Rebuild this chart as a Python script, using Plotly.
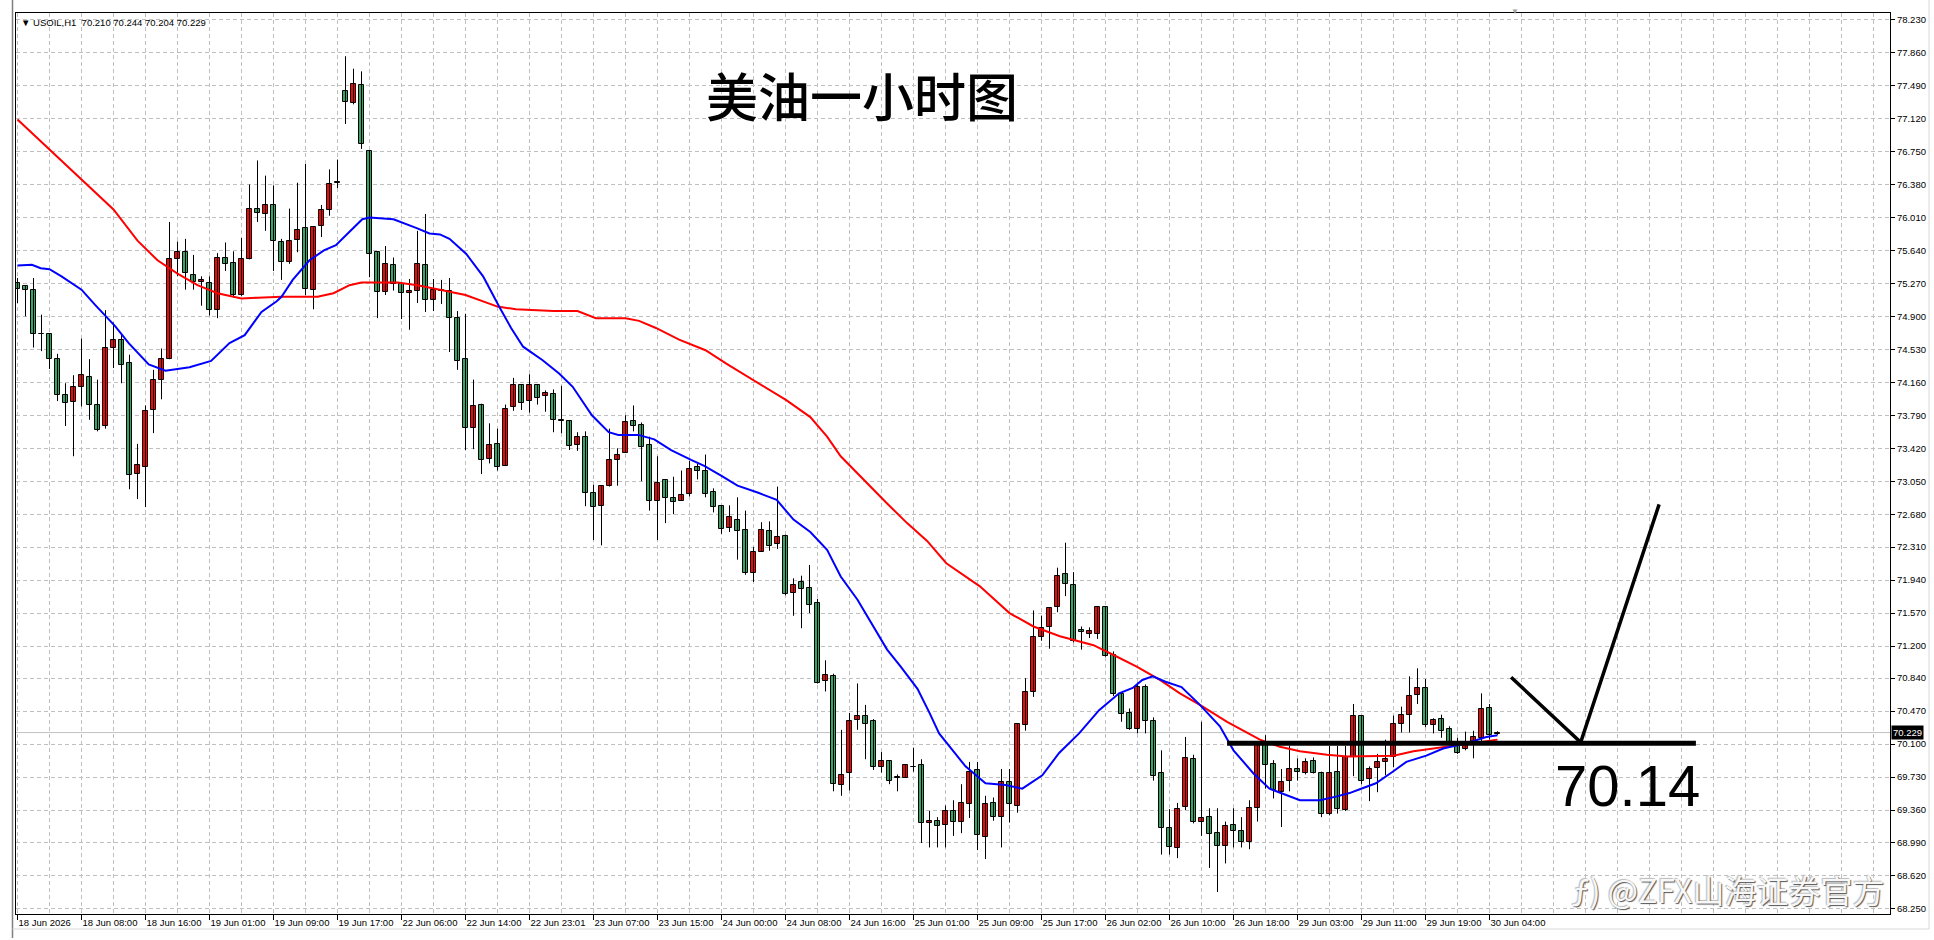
import plotly.graph_objects as go

# ---------------- data ----------------
opens = [75.28, 75.24, 75.20, 74.70, 74.70, 74.42, 74.02, 73.94, 74.11, 74.22,
         73.90, 73.67, 74.55, 74.64, 74.38, 73.13, 73.21, 73.85, 74.19, 74.42,
         75.54, 75.62, 75.36, 75.29, 75.28, 74.97, 75.55, 75.50, 75.14, 75.54,
         76.11, 76.05, 76.15, 75.73, 75.51, 75.76, 75.89, 75.20, 75.91, 76.09,
         76.40, 77.43, 77.30, 77.50, 76.76, 75.62, 75.17, 75.48, 75.26, 75.16,
         75.19, 75.48, 75.08, 75.19, 75.19, 74.88, 74.42, 73.65, 73.91, 73.30,
         73.47, 73.22, 73.88, 74.13, 73.95, 74.13, 74.01, 74.03, 73.73, 73.73,
         73.46, 73.55, 72.92, 72.77, 73.00, 73.29, 73.37, 73.73, 73.68, 73.46,
         72.83, 73.06, 72.86, 72.83, 72.91, 73.21, 73.16, 72.93, 72.77, 72.53,
         72.62, 72.50, 72.02, 72.26, 72.49, 72.34, 72.43, 71.80, 71.92, 71.85,
         71.68, 70.81, 70.86, 69.64, 69.78, 70.37, 70.41, 70.36, 69.84, 69.91,
         69.72, 69.72, 69.84, 69.87, 69.21, 69.24, 69.19, 69.35, 69.22, 69.43,
         69.81, 69.06, 69.44, 69.28, 69.68, 69.41, 70.31, 70.68, 71.30, 71.41,
         71.64, 72.01, 71.89, 71.38, 71.34, 71.34, 71.64, 71.10, 70.66, 70.45,
         70.27, 70.74, 70.36, 69.77, 69.16, 68.93, 69.39, 69.93, 69.22, 69.28,
         69.10, 68.96, 69.19, 69.13, 69.00, 69.38, 70.09, 69.88, 69.56, 69.69,
         69.82, 69.78, 69.91, 69.78, 69.31, 69.79, 69.36, 69.95, 70.42, 69.71,
         69.83, 69.90, 69.95, 70.32, 70.43, 70.65, 70.73, 70.31, 70.38, 70.27,
         70.11, 70.05, 70.11, 70.17, 70.50, 70.210]
highs = [75.33, 75.25, 75.33, 74.92, 74.70, 74.48, 74.15, 74.24, 74.65, 74.42,
         74.19, 74.97, 74.83, 74.70, 74.47, 73.47, 73.90, 74.30, 74.54, 75.96,
         75.74, 75.77, 75.59, 75.35, 75.35, 75.61, 75.73, 75.63, 75.78, 76.38,
         76.65, 76.48, 76.37, 75.77, 76.11, 76.40, 76.61, 75.90, 76.15, 76.55,
         76.66, 77.82, 77.68, 77.65, 76.76, 75.62, 75.69, 75.56, 75.26, 75.32,
         75.86, 76.05, 75.32, 75.31, 75.33, 74.96, 74.93, 74.19, 73.92, 73.70,
         73.64, 73.91, 74.21, 74.14, 74.25, 74.13, 74.07, 74.08, 74.12, 73.73,
         73.60, 73.61, 73.01, 73.00, 73.64, 73.42, 73.79, 73.90, 73.71, 73.55,
         73.33, 73.06, 73.10, 73.17, 73.28, 73.25, 73.35, 72.97, 72.78, 72.78,
         72.87, 72.72, 72.31, 72.59, 72.60, 72.99, 72.45, 71.96, 71.99, 72.11,
         71.73, 71.04, 70.89, 70.26, 70.45, 70.78, 70.54, 70.38, 70.01, 69.92,
         69.76, 69.87, 70.06, 69.93, 69.35, 69.28, 69.41, 69.47, 69.65, 69.90,
         69.90, 69.52, 69.50, 69.82, 69.82, 70.33, 70.84, 71.60, 71.54, 71.63,
         72.08, 72.36, 72.03, 71.42, 71.41, 71.65, 71.65, 71.14, 70.68, 70.50,
         70.79, 70.77, 70.40, 70.03, 69.37, 69.44, 70.18, 69.98, 70.35, 69.38,
         69.38, 69.23, 69.38, 69.28, 69.47, 70.09, 70.20, 69.92, 69.82, 70.08,
         69.94, 69.94, 69.95, 69.79, 70.08, 70.08, 70.08, 70.55, 70.42, 69.85,
         69.99, 70.15, 70.42, 70.52, 70.86, 70.95, 70.83, 70.39, 70.43, 70.30,
         70.17, 70.24, 70.25, 70.67, 70.55, 70.244]
lows = [75.05, 74.90, 74.55, 74.51, 74.31, 73.95, 73.67, 73.33, 73.89, 73.74,
        73.61, 73.64, 74.32, 74.15, 72.96, 72.85, 72.76, 73.59, 73.97, 74.42,
        75.35, 75.20, 75.20, 75.02, 74.91, 74.88, 75.41, 75.11, 75.13, 75.54,
        75.96, 75.86, 75.41, 75.31, 75.49, 75.62, 75.14, 74.98, 75.79, 76.03,
        76.34, 77.06, 77.28, 76.78, 75.34, 74.88, 75.14, 75.19, 74.87, 74.75,
        75.05, 74.95, 74.96, 75.04, 74.50, 74.30, 73.40, 73.41, 73.13, 73.25,
        73.17, 73.22, 73.84, 73.85, 73.82, 73.91, 73.83, 73.60, 73.59, 73.40,
        73.39, 72.77, 72.39, 72.33, 72.99, 73.00, 73.37, 73.61, 73.05, 72.72,
        72.39, 72.58, 72.68, 72.83, 72.88, 73.07, 72.87, 72.70, 72.46, 72.48,
        72.17, 72.00, 71.92, 72.26, 72.27, 72.29, 71.77, 71.54, 71.40, 71.57,
        70.78, 70.69, 69.57, 69.52, 69.58, 70.26, 69.93, 69.81, 69.78, 69.65,
        69.57, 69.72, 69.79, 68.99, 68.94, 68.94, 68.94, 69.07, 69.10, 69.27,
        68.91, 68.81, 69.24, 68.94, 69.22, 69.33, 70.25, 70.63, 71.26, 71.17,
        71.58, 71.76, 71.24, 71.16, 71.29, 71.28, 71.08, 70.64, 70.35, 70.26,
        70.22, 70.22, 69.69, 68.86, 68.86, 68.82, 69.36, 69.21, 69.07, 68.71,
        68.44, 68.76, 68.94, 68.94, 68.92, 69.23, 69.60, 69.49, 69.17, 69.57,
        69.69, 69.76, 69.77, 69.28, 69.30, 69.32, 69.35, 69.74, 69.65, 69.46,
        69.56, 69.75, 69.84, 70.23, 70.23, 70.55, 70.29, 70.22, 70.17, 70.09,
        69.99, 70.03, 69.94, 70.12, 70.15, 70.204]
closes = [75.21, 75.20, 74.70, 74.70, 74.42, 74.02, 73.93, 74.11, 74.24, 73.90,
          73.63, 74.55, 74.64, 74.36, 73.12, 73.23, 73.84, 74.19, 74.42, 75.54,
          75.62, 75.39, 75.29, 75.31, 74.97, 75.55, 75.49, 75.14, 75.54, 76.11,
          76.06, 76.15, 75.75, 75.51, 75.75, 75.87, 75.21, 75.90, 76.09, 76.39,
          76.40, 77.31, 77.51, 76.84, 75.60, 75.17, 75.49, 75.26, 75.16, 75.18,
          75.49, 75.08, 75.20, 75.19, 74.88, 74.40, 73.65, 73.89, 73.29, 73.46,
          73.21, 73.86, 74.13, 73.93, 74.13, 73.98, 74.04, 73.74, 73.73, 73.44,
          73.55, 72.92, 72.76, 73.00, 73.29, 73.34, 73.71, 73.67, 73.43, 72.83,
          73.03, 72.86, 72.82, 72.89, 73.19, 73.16, 72.91, 72.76, 72.51, 72.65,
          72.49, 72.02, 72.26, 72.50, 72.32, 72.42, 71.79, 71.89, 71.84, 71.66,
          70.79, 70.88, 69.65, 69.75, 70.36, 70.41, 70.33, 69.84, 69.91, 69.69,
          69.72, 69.86, 69.84, 69.21, 69.24, 69.18, 69.35, 69.22, 69.44, 69.79,
          69.08, 69.43, 69.28, 69.68, 69.43, 70.32, 70.68, 71.30, 71.40, 71.63,
          71.99, 71.90, 71.26, 71.36, 71.37, 71.64, 71.09, 70.66, 70.44, 70.27,
          70.74, 70.36, 69.74, 69.16, 68.94, 69.37, 69.94, 69.23, 69.27, 69.09,
          68.96, 69.18, 69.13, 69.00, 69.38, 70.09, 69.86, 69.59, 69.68, 69.82,
          69.79, 69.90, 69.78, 69.32, 69.78, 69.37, 69.96, 70.42, 69.69, 69.82,
          69.90, 69.93, 70.32, 70.43, 70.64, 70.73, 70.31, 70.37, 70.25, 70.12,
          70.00, 70.10, 70.18, 70.49, 70.20, 70.229]
bar_index = list(range(len(opens)))

# moving averages (bar position, price)
fast_ma_bars = [0, 1.8, 2.9, 4, 5.5, 8, 9.7, 12.2, 13.9, 16.4, 18.5, 21.5, 24.2, 26.5,
                28.4, 29.5, 30.5, 32.4, 33, 34.4, 36.5, 38.3, 39.8, 41.5, 43.1, 44, 47,
                49.9, 51.5, 52.8, 54, 56.1, 58.2, 60.2, 61.7, 63.2, 65.6, 67.7, 69.4,
                71.8, 73.9, 75.1, 77.6, 79.6, 81.7, 84.2, 85.9, 88, 90, 92.6, 94.9, 97,
                99.1, 101.2, 102.9, 105, 107, 108.7, 110.4, 112.5, 114, 115.2, 116.9,
                118.5, 121, 123.5, 125.6, 128.1, 130.2, 132.7, 135.2, 137.7, 139.4,
                140.6, 141.9, 143.5, 145.5, 147.8, 150.3, 152, 154.5, 156.5, 160.3,
                162.8, 164.8, 166.5, 167.7, 169.8, 171.9, 173.6, 176.1, 178.2, 181.1,
                183.6, 185]
fast_ma_vals = [75.47, 75.48, 75.44, 75.43, 75.35, 75.20, 75.03, 74.79, 74.60, 74.36,
                74.29, 74.33, 74.40, 74.60, 74.69, 74.82, 74.95, 75.07, 75.12, 75.31,
                75.53, 75.64, 75.70, 75.85, 75.99, 76.01, 75.99, 75.89, 75.83, 75.82,
                75.77, 75.60, 75.35, 75.01, 74.77, 74.56, 74.41, 74.26, 74.11, 73.79,
                73.60, 73.57, 73.57, 73.52, 73.40, 73.29, 73.22, 73.11, 73.00, 72.92,
                72.84, 72.62, 72.48, 72.28, 71.98, 71.72, 71.42, 71.16, 70.97, 70.72,
                70.45, 70.22, 70.03, 69.85, 69.66, 69.64, 69.60, 69.75, 70.00, 70.22,
                70.48, 70.67, 70.73, 70.82, 70.86, 70.80, 70.74, 70.54, 70.30, 70.03,
                69.77, 69.60, 69.47, 69.47, 69.51, 69.55, 69.59, 69.66, 69.79, 69.90,
                69.97, 70.05, 70.11, 70.18, 70.20]
slow_ma_bars = [0, 4, 8, 12, 15, 17.5, 20, 22.5, 25, 28, 30, 33, 37.5, 39.5, 41.5, 43,
                47.5, 50, 52.8, 56, 60, 62.3, 67, 70, 72.3, 76, 77.7, 79.8, 82.7, 86,
                88.6, 92.6, 96.1, 99.1, 101.2, 102.9, 105.4, 108.7, 111.2, 113.7, 116.1,
                120.3, 124, 127, 130.3, 134.5, 137, 139.9, 142.8, 145.3, 147.8, 151.2,
                155.3, 157.8, 160.3, 163.7, 166.2, 172, 174.5, 178.3, 182.2, 185]
slow_ma_vals = [77.11, 76.77, 76.44, 76.10, 75.75, 75.53, 75.38, 75.25, 75.16, 75.10,
                75.11, 75.12, 75.12, 75.16, 75.25, 75.28, 75.28, 75.25, 75.20, 75.14,
                75.01, 74.98, 74.96, 74.96, 74.88, 74.88, 74.85, 74.77, 74.64, 74.52,
                74.37, 74.15, 73.96, 73.77, 73.55, 73.33, 73.10, 72.80, 72.58, 72.38,
                72.13, 71.87, 71.57, 71.42, 71.31, 71.21, 71.10, 70.97, 70.82, 70.67,
                70.54, 70.35, 70.15, 70.07, 70.02, 69.98, 69.96, 69.97, 70.02, 70.07,
                70.12, 70.15]

x_tick_bars = list(range(0, 185, 8))
x_tick_labels = ["18 Jun 2026", "18 Jun 08:00", "18 Jun 16:00", "19 Jun 01:00",
                 "19 Jun 09:00", "19 Jun 17:00", "22 Jun 06:00", "22 Jun 14:00",
                 "22 Jun 23:01", "23 Jun 07:00", "23 Jun 15:00", "24 Jun 00:00",
                 "24 Jun 08:00", "24 Jun 16:00", "25 Jun 01:00", "25 Jun 09:00",
                 "25 Jun 17:00", "26 Jun 02:00", "26 Jun 10:00", "26 Jun 18:00",
                 "29 Jun 03:00", "29 Jun 11:00", "29 Jun 19:00", "30 Jun 04:00"]
y_tick_labels = ["78.230", "77.860", "77.490", "77.120", "76.750", "76.380", "76.010",
                 "75.640", "75.270", "74.900", "74.530", "74.160", "73.790", "73.420",
                 "73.050", "72.680", "72.310", "71.940", "71.570", "71.200", "70.840",
                 "70.470", "70.100", "69.730", "69.360", "68.990", "68.620", "68.250"]
y_tick_vals = [float(t) for t in y_tick_labels]

# hand-drawn annotation (support line and arrow path)
support_price = 70.11
support_bars = [151.2, 209.8]
support_label = "70.14"
arrow_bars = [186.7, 195.4, 205.2]
arrow_prices = [70.85, 70.12, 72.79]

title_text = "美油一小时图"
symbol_text = "USOIL,H1"
watermark_text = "ƒ) @ZFX山海证券官方"

# ---------------- figure ----------------
UP = "#ff0000"
DOWN = "#33a865"
FONT = "Liberation Sans, Arial, sans-serif"

PLOT_L, PLOT_R, PLOT_T, PLOT_B = 16, 1890, 13, 914
W, H = 1934, 940
PW, PH = PLOT_R - PLOT_L, PLOT_B - PLOT_T


def px_x(x):
    return (x - PLOT_L) / PW


def px_y(y):
    return (PLOT_B - y) / PH


fig = go.Figure()

# wicks
wx, wy = [], []
for i, h, l in zip(bar_index, highs, lows):
    wx += [i, i, None]
    wy += [l, h, None]
fig.add_trace(go.Scatter(x=wx, y=wy, mode="lines", line=dict(color="black", width=1),
                         hoverinfo="skip"))

# bodies
bases = [min(o, c) for o, c in zip(opens, closes)]
heights = [max(abs(c - o), 0.008) for o, c in zip(opens, closes)]
colors = [UP if c > o else DOWN for o, c in zip(opens, closes)]
fig.add_trace(go.Bar(x=bar_index, y=heights, base=bases, width=0.55,
                     marker=dict(color=colors, line=dict(color="black", width=1)),
                     customdata=list(zip(opens, highs, lows, closes)),
                     hovertemplate="O %{customdata[0]}<br>H %{customdata[1]}<br>L %{customdata[2]}<br>C %{customdata[3]}<extra></extra>"))

# moving averages
fig.add_trace(go.Scatter(x=slow_ma_bars, y=slow_ma_vals, mode="lines",
                         line=dict(color="#ff0000", width=2), hoverinfo="skip"))
fig.add_trace(go.Scatter(x=fast_ma_bars, y=fast_ma_vals, mode="lines",
                         line=dict(color="#0000ff", width=2), hoverinfo="skip"))

# hand-drawn support line & arrow
fig.add_trace(go.Scatter(x=support_bars, y=[support_price, support_price], mode="lines",
                         line=dict(color="black", width=5), hoverinfo="skip"))
fig.add_trace(go.Scatter(x=arrow_bars, y=arrow_prices, mode="lines",
                         line=dict(color="black", width=3.5), hoverinfo="skip"))

grid = dict(showgrid=True, gridcolor="#c0c0c0", gridwidth=1, griddash="4px,3px")

fig.update_xaxes(range=[(PLOT_L - 17.5) / 8, (PLOT_R - 17.5) / 8],
                 tickmode="array", tickvals=x_tick_bars, ticktext=x_tick_labels,
                 tickangle=0, automargin=False,
                 ticks="outside", ticklen=5, tickcolor="black", tickwidth=1,
                 ticklabelposition="outside right",
                 tickfont=dict(family=FONT, size=9.5, color="black"),
                 showline=True, linecolor="black", linewidth=1, mirror=True,
                 zeroline=False,
                 minor=dict(tickvals=list(range(0, 236, 4)), ticks="", **grid),
                 **grid)
fig.update_yaxes(range=[68.193, 78.305], side="right", automargin=False,
                 tickmode="array", tickvals=y_tick_vals, ticktext=y_tick_labels,
                 ticks="outside", ticklen=4, tickcolor="black", tickwidth=1,
                 tickfont=dict(family=FONT, size=9.5, color="black"),
                 showline=True, linecolor="black", linewidth=1, mirror=True,
                 zeroline=False, **grid)

shapes = [
    # current price line
    dict(type="line", xref="paper", yref="y", x0=0, x1=1, y0=closes[-1], y1=closes[-1],
         line=dict(color="#c0c0c0", width=1), layer="below"),
    # window frame
    dict(type="line", xref="paper", yref="paper", x0=px_x(12.5), x1=px_x(12.5),
         y0=px_y(938), y1=px_y(0), line=dict(color="#808080", width=1.5)),
    dict(type="line", xref="paper", yref="paper", x0=px_x(12.5), x1=px_x(1929),
         y0=px_y(929), y1=px_y(929), line=dict(color="#d8d8d8", width=1)),
    dict(type="line", xref="paper", yref="paper", x0=px_x(1929), x1=px_x(1929),
         y0=px_y(929), y1=px_y(0), line=dict(color="#d8d8d8", width=1)),
]

annotations = [
    dict(xref="paper", yref="paper", x=px_x(19), y=px_y(22), xanchor="left", yanchor="middle",
         text="▼ " + symbol_text + "  " + " ".join(f"{v:.3f}" for v in
                                                  (opens[-1], highs[-1], lows[-1], closes[-1])),
         showarrow=False, font=dict(family=FONT, size=9.5, color="black")),
    dict(xref="paper", yref="paper", x=px_x(862), y=px_y(94), xanchor="center", yanchor="middle",
         text=title_text, showarrow=False,
         font=dict(family="Noto Sans CJK SC", size=52, color="black", weight=500)),
    dict(xref="x", yref="y", x=201.3, y=69.63, xanchor="center", yanchor="middle",
         text=support_label, showarrow=False,
         font=dict(family=FONT, size=58, color="black")),
    dict(xref="paper", yref="y", x=1, xshift=1, y=closes[-1], xanchor="left", yanchor="middle",
         text=f"{closes[-1]:.3f}", showarrow=False, bgcolor="black", borderpad=1,
         font=dict(family=FONT, size=9.5, color="white")),
    dict(xref="paper", yref="paper", x=px_x(1886), y=px_y(889), xanchor="right", yanchor="middle",
         text=watermark_text, showarrow=False,
         font=dict(family="Noto Sans CJK SC", size=32, color="#f7f7f7",
                   shadow="1px 1px 1px #555, -1px -1px 1px #bbb")),
    dict(xref="paper", yref="paper", x=px_x(1515), y=px_y(12), xanchor="center", yanchor="middle",
         text="▼", showarrow=False, font=dict(family=FONT, size=8, color="#a0a0a0")),
]

fig.update_layout(width=W, height=H,
                  margin=dict(l=PLOT_L, r=W - PLOT_R, t=PLOT_T, b=H - PLOT_B, pad=0),
                  paper_bgcolor="white", plot_bgcolor="white", showlegend=False,
                  barmode="overlay", bargap=0, shapes=shapes, annotations=annotations,
                  hovermode="closest")

fig.write_html("out.html")
